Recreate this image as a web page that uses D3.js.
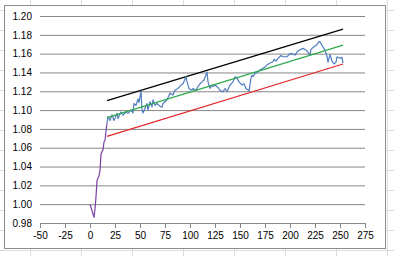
<!DOCTYPE html>
<html>
<head>
<meta charset="utf-8">
<script src="https://cdn.jsdelivr.net/npm/d3@7"></script>
<style>
	body { margin: 0; background: #fff; }
	svg { display: block; font-family: "Liberation Sans", Arial, sans-serif; }
</style>
</head>
<body>
<div class="container"></div>
<script>
// tick labels
const xTicks = [-50, -25, 0, 25, 50, 75, 100, 125, 150, 175, 200, 225, 250, 275];
const yTicks = [0.98, 1.00, 1.02, 1.04, 1.06, 1.08, 1.10, 1.12, 1.14, 1.16, 1.18, 1.20];

// first stretch (purple)
const startX = [0, 2, 4, 5, 6, 7, 8, 9, 10, 11, 12, 13, 14, 15, 16, 17];
const startY = [1.000, 0.993, 0.986, 0.995, 1.008, 1.025, 1.028, 1.030, 1.036, 1.053, 1.056, 1.058, 1.066, 1.068, 1.078, 1.086];

// rest of the series (blue)
const mainX = [17, 18, 20, 22, 24, 27, 28, 31, 33, 36, 38, 41, 43, 44, 46, 48, 49, 51, 52, 53, 55, 57, 58, 60, 62, 63, 65, 67, 70, 72, 73, 77, 80, 83, 85, 88, 91, 93, 96, 97, 99, 100, 102, 103, 106, 108, 110, 112, 114, 117, 118, 120, 122, 123, 125, 128, 130, 133, 135, 137, 140, 143, 145, 147, 149, 152, 154, 156, 159, 161, 162, 163, 165, 167, 170, 173, 175, 177, 180, 183, 184, 186, 188, 191, 193, 197, 200, 202, 205, 208, 213, 217, 220, 221, 223, 227, 229, 230, 233, 235, 237, 238, 240, 242, 244, 246, 247, 250, 252, 253];
const mainY = [1.086, 1.093, 1.089, 1.095, 1.089, 1.0965, 1.091, 1.098, 1.0947, 1.098, 1.0965, 1.100, 1.097, 1.107, 1.105, 1.112, 1.108, 1.1200, 1.1000, 1.0970, 1.102, 1.107, 1.100, 1.109, 1.1035, 1.111, 1.105, 1.107, 1.104, 1.103, 1.107, 1.111, 1.118, 1.116, 1.121, 1.123, 1.1266, 1.128, 1.1355, 1.130, 1.123, 1.122, 1.121, 1.123, 1.121, 1.125, 1.128, 1.130, 1.132, 1.1405, 1.130, 1.123, 1.1266, 1.125, 1.1266, 1.124, 1.121, 1.1195, 1.123, 1.1195, 1.1266, 1.130, 1.1355, 1.134, 1.130, 1.1266, 1.128, 1.123, 1.1205, 1.134, 1.137, 1.1355, 1.139, 1.140, 1.1426, 1.1444, 1.146, 1.148, 1.150, 1.1514, 1.154, 1.152, 1.155, 1.158, 1.1567, 1.1567, 1.160, 1.160, 1.1585, 1.163, 1.1656, 1.163, 1.1585, 1.1645, 1.1665, 1.1695, 1.1727, 1.1727, 1.167, 1.1638, 1.157, 1.151, 1.159, 1.152, 1.149, 1.151, 1.1567, 1.155, 1.156, 1.150];

// straight lines (start / end)
const lineX = [17, 253];
const upperY = [1.110, 1.186];
const midY = [1.092, 1.169];
const lowerY = [1.072, 1.149];

const W = 394, H = 256;
const svg = d3.select('div.container').append('svg')
	.attr('width', W)
	.attr('height', H);

// spreadsheet cells behind the chart
const sheet = svg.append('g').attr('class', 'sheet');
sheet.selectAll('.col')
	.data(d3.range(30, W, 51))
	.enter()
	.append('line')
	.attr('x1', d => d + 0.5).attr('x2', d => d + 0.5)
	.attr('y1', 0).attr('y2', H)
	.style('stroke', '#dadcdd');
sheet.selectAll('.row')
	.data(d3.range(10, H, 20))
	.enter()
	.append('line')
	.attr('y1', d => d + 0.5).attr('y2', d => d + 0.5)
	.attr('x1', 0).attr('x2', W)
	.style('stroke', '#dadcdd');

// chart frame
svg.append('rect')
	.attr('x', 4.5).attr('y', 5.5)
	.attr('width', 381).attr('height', 243)
	.style('fill', '#fff')
	.style('stroke', '#8c8c8c');

const x = d3.scaleLinear().domain([-50, 275]).range([40, 365]);
const y = d3.scaleLinear().domain([0.98, 1.20]).range([223, 16]);

// y gridlines + labels
const yAxis = svg.append('g')
	.attr('transform', 'translate(40,0)')
	.call(d3.axisLeft(y).tickValues(yTicks).tickSize(-325).tickPadding(8).tickFormat(d3.format('.2f')));
yAxis.select('.domain').remove();
yAxis.selectAll('line').style('stroke', '#868686');
yAxis.selectAll('text').style('font-size', '10px').style('fill', '#000');

// x axis
const xAxis = svg.append('g')
	.attr('transform', 'translate(0,' + y(0.98) + ')')
	.call(d3.axisBottom(x).tickValues(xTicks).tickSizeInner(5).tickSizeOuter(0).tickPadding(4).tickFormat(d => String(d)));
xAxis.select('.domain').style('stroke', '#868686');
xAxis.selectAll('line').style('stroke', '#868686');
xAxis.selectAll('text').style('font-size', '10px').style('fill', '#000');

const line = d3.line().x(d => x(d[0])).y(d => y(d[1]));
const drawSeries = (xs, ys, colour) => {
	svg.append('path')
		.datum(xs.map((v, i) => [v, ys[i]]))
		.attr('d', line)
		.style('fill', 'none')
		.style('stroke', colour)
		.style('stroke-width', 1.2)
		.style('stroke-linejoin', 'round');
}

drawSeries(lineX, lowerY, '#e5262b');
drawSeries(lineX, upperY, '#000000');
drawSeries(startX, startY, '#7b42a6');
drawSeries(mainX, mainY, '#4f7dbf');
drawSeries(lineX, midY, '#2faa4e');
</script>
</body>
</html>
